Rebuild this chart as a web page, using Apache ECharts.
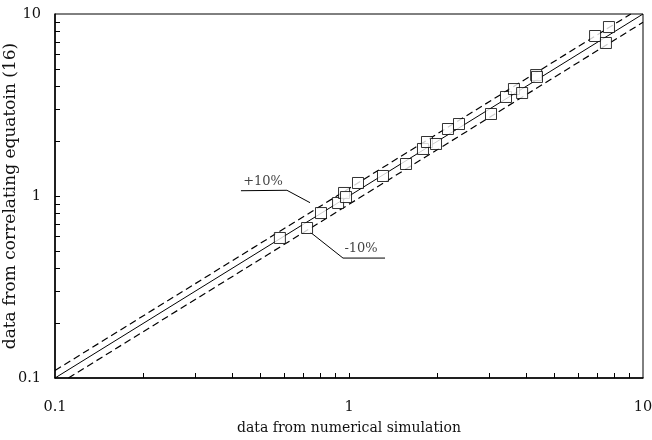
<!DOCTYPE html>
<html>
<head>
<meta charset="utf-8">
<script src="https://cdn.jsdelivr.net/npm/echarts@6/dist/echarts.min.js"></script>
<style>html,body{margin:0;padding:0;background:#fff}#c{width:652px;height:440px}</style>
</head>
<body>
<div id="c"></div>
<script>
// Data
var simX = [0.582,0.720,0.803,0.918,0.962,0.977,1.073,1.305,1.563,1.785,1.842,1.977,2.171,2.367,3.041,3.42,3.64,3.88,4.33,4.36,6.87,7.66,7.48];
var corrY = [0.588,0.667,0.806,0.915,1.039,0.987,1.179,1.288,1.499,1.813,1.980,1.931,2.334,2.486,2.822,3.50,3.87,3.68,4.62,4.51,7.57,8.48,6.93];
var lineEqual = [[0.1,0.1],[10,10]];
var linePlus10 = [[0.1,0.11],[9.0909,10]];
var lineMinus10 = [[0.1111,0.1],[10,9]];
var leaderPlus = [[0.429,1.069],[0.615,1.075],[0.737,0.919]];
var leaderMinus = [[0.737,0.634],[0.954,0.456],[1.326,0.456]];
var annPlus = {pos:[0.51,1.194], text:'+10%'};
var annMinus = {pos:[1.099,0.511], text:'-10%'};
var tickLabels = {'0.1':'0.1','1':'1','10':'10'};
var minorTicks = [0.2,0.3,0.4,0.5,0.6,0.7,0.8,0.9,1,2,3,4,5,6,7,8,9];
var xName = 'data from numerical simulation';
var yName = 'data from correlating equatoin (16)';

var FONT = 'DejaVu Serif';
var chart = echarts.init(document.getElementById('c'), null, {renderer:'canvas'});
var pts = simX.map(function(x,i){return [x, corrY[i]];});
function fmt(v){ var k = String(+v.toPrecision(3)); return tickLabels[k] !== undefined ? tickLabels[k] : ''; }
chart.setOption({
  animation:false,
  backgroundColor:'#fff',
  grid:{left:55,right:9,top:14,bottom:62,show:true,borderColor:'#000',borderWidth:1,outerBoundsMode:'none',containLabel:false},
  xAxis:{type:'log',min:0.1,max:10,logBase:10,
    name:xName,nameLocation:'middle',nameGap:43,
    nameTextStyle:{fontFamily:FONT,fontSize:14,color:'#111'},
    axisLine:{lineStyle:{color:'#000',width:1.5}},
    axisTick:{show:true,inside:true,length:5,customValues:minorTicks,lineStyle:{color:'#000',width:1}},
    minorTick:{show:false},
    splitLine:{show:false},
    axisLabel:{fontFamily:FONT,fontSize:14.5,color:'#111',margin:22,formatter:fmt}},
  yAxis:{type:'log',min:0.1,max:10,logBase:10,
    name:yName,nameLocation:'middle',nameGap:36,nameRotate:90,nameMoveOverlap:false,
    nameTextStyle:{fontFamily:FONT,fontSize:17,color:'#111'},
    axisLine:{lineStyle:{color:'#000',width:1.5}},
    axisTick:{show:true,inside:true,length:5,customValues:minorTicks,lineStyle:{color:'#000',width:1}},
    splitLine:{show:false},
    axisLabel:{fontFamily:FONT,fontSize:14.5,color:'#111',margin:14,formatter:fmt}},
  series:[
    {type:'line',data:lineEqual,symbol:'none',lineStyle:{color:'#000',width:1},z:2},
    {type:'line',data:linePlus10,symbol:'none',lineStyle:{color:'#000',width:1.2,type:[7,4]},z:2},
    {type:'line',data:lineMinus10,symbol:'none',lineStyle:{color:'#000',width:1.2,type:[7,4]},z:2},
    {type:'line',data:leaderPlus,symbol:'none',lineStyle:{color:'#000',width:1},z:2},
    {type:'line',data:leaderMinus,symbol:'none',lineStyle:{color:'#000',width:1},z:2},
    {type:'scatter',data:pts,symbol:'rect',symbolSize:11,
      itemStyle:{color:'#fff',borderColor:'#000',borderWidth:1},z:5},
    {type:'scatter',symbolSize:1,itemStyle:{color:'rgba(0,0,0,0)'},silent:true,
      data:[{value:annPlus.pos,name:annPlus.text},{value:annMinus.pos,name:annMinus.text}],
      label:{show:true,position:'inside',formatter:'{b}',fontFamily:FONT,fontSize:13,color:'#111'},z:6}
  ]
});
</script>
</body>
</html>
